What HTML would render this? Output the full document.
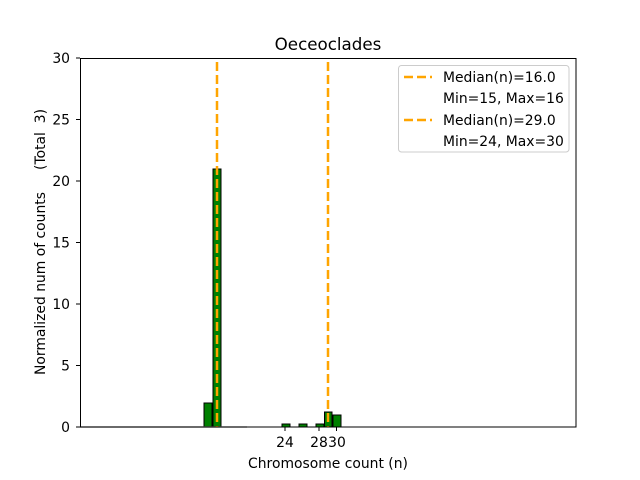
<!DOCTYPE html>
<html><head><meta charset="utf-8"><style>body{margin:0;background:#fff}svg{display:block}text{font-family:"DejaVu Sans","Liberation Sans",sans-serif;fill:#000}</style></head><body>
<svg width="640" height="480" viewBox="0 0 640 480">
<rect width="640" height="480" fill="#fff"/>
<g stroke="#000" stroke-width="1">
<rect x="204" y="403" width="8" height="24" fill="#008000"/>
<rect x="213" y="169" width="8" height="258" fill="#008000"/>
<rect x="282" y="424" width="8" height="3" fill="#008000"/>
<rect x="299" y="424" width="8" height="3" fill="#008000"/>
<rect x="316" y="424" width="8" height="3" fill="#008000"/>
<rect x="324.5" y="412" width="7.5" height="15" fill="#008000"/>
<rect x="333" y="415" width="8" height="12" fill="#008000"/>
</g>
<line x1="80" y1="427" x2="247" y2="427" stroke="#aaa" stroke-width="1.5"/>
<line x1="217" y1="62" x2="217" y2="427" stroke="#ffa500" stroke-width="2.5" stroke-dasharray="9,4"/>
<line x1="328" y1="62" x2="328" y2="427" stroke="#ffa500" stroke-width="2.5" stroke-dasharray="9,4"/>
<rect x="80.5" y="58.5" width="495.5" height="368.5" fill="none" stroke="#000"/>
<g stroke="#000">
<line x1="76" y1="427" x2="80" y2="427"/><line x1="76" y1="365.5" x2="80" y2="365.5"/><line x1="76" y1="304" x2="80" y2="304"/><line x1="76" y1="242.5" x2="80" y2="242.5"/><line x1="76" y1="181" x2="80" y2="181"/><line x1="76" y1="119.5" x2="80" y2="119.5"/><line x1="76" y1="58" x2="80" y2="58"/>
<line x1="285" y1="427" x2="285" y2="431"/><line x1="319" y1="427" x2="319" y2="431"/><line x1="336.5" y1="427" x2="336.5" y2="431"/>
</g>
<g font-size="13.9" text-anchor="end">
<text x="70" y="432">0</text><text x="70" y="370.5">5</text><text x="70" y="309">10</text><text x="70" y="247.5">15</text><text x="70" y="186">20</text><text x="70" y="124.5">25</text><text x="70" y="63">30</text>
</g>
<g font-size="13.9" text-anchor="middle">
<text x="285" y="447">24</text><text x="319" y="447">28</text><text x="337" y="447">30</text>
<text x="328" y="468">Chromosome count (n)</text>
</g>
<text x="328" y="50" font-size="16.7" text-anchor="middle">Oeceoclades</text>
<text transform="translate(45,242) rotate(-90)" font-size="13.9" text-anchor="middle" xml:space="preserve">Normalized num of counts     (Total  3)</text>
<rect x="398.5" y="65.5" width="170.5" height="86.5" rx="3" fill="#fff" fill-opacity="0.8" stroke="#ccc"/>
<line x1="404" y1="77" x2="432" y2="77" stroke="#ffa500" stroke-width="2.5" stroke-dasharray="9,4"/>
<line x1="404" y1="120" x2="432" y2="120" stroke="#ffa500" stroke-width="2.5" stroke-dasharray="9,4"/>
<g font-size="13.9">
<text x="443" y="82">Median(n)=16.0</text>
<text x="443" y="103">Min=15, Max=16</text>
<text x="443" y="125">Median(n)=29.0</text>
<text x="443" y="146">Min=24, Max=30</text>
</g>
</svg>
</body></html>
